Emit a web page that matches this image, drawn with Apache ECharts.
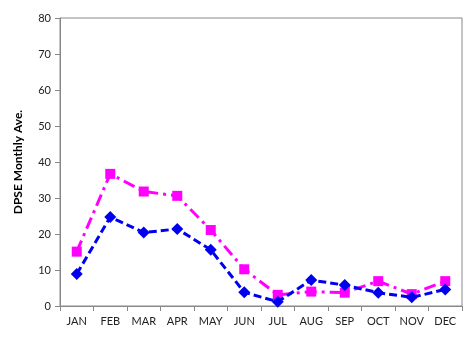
<!DOCTYPE html>
<html><head><meta charset="utf-8">
<script src="https://cdn.jsdelivr.net/npm/echarts@6/dist/echarts.min.js"></script>
<style>html,body{margin:0;padding:0;background:#fff}#c{width:467px;height:344px}</style>
</head><body><div id="c"></div>
<script>
const months = ['JAN','FEB','MAR','APR','MAY','JUN','JUL','AUG','SEP','OCT','NOV','DEC'];
const blueSeries = [8.9, 24.7, 20.4, 21.4, 15.6, 3.8, 1.2, 7.2, 5.8, 3.7, 2.4, 4.6];
const pinkSeries = [15.1, 36.7, 31.8, 30.6, 21.1, 10.2, 3.1, 4.0, 3.7, 6.9, 3.3, 6.9];
const yTitle = 'DPSE Monthly Ave.';

const chart = echarts.init(document.getElementById('c'));
const font = 'Lato, "Open Sans", sans-serif';
chart.setOption({
  animation: false,
  grid: {left: 60, top: 18, right: 5, bottom: 38, show: true, borderColor: '#888', borderWidth: 1},
  xAxis: {
    type: 'category', data: months, boundaryGap: true,
    axisLine: {lineStyle: {color: '#888', width: 1}},
    axisTick: {show: true, length: 5, lineStyle: {color: '#888'}},
    axisLabel: {color: '#222', fontSize: 11, fontFamily: font, margin: 10}
  },
  yAxis: {
    type: 'value', min: 0, max: 80, interval: 10,
    name: yTitle, nameLocation: 'middle', nameGap: 36, nameRotate: 90,
    nameTextStyle: {fontWeight: 'bold', fontSize: 12, color: '#000', fontFamily: font},
    axisLine: {show: true, lineStyle: {color: '#888', width: 1}},
    axisTick: {show: true, length: 5, inside: false, lineStyle: {color: '#888'}},
    axisLabel: {color: '#222', fontSize: 11, fontFamily: font, margin: 9},
    splitLine: {show: false}
  },
  series: [
    {type: 'line', data: pinkSeries, symbol: 'rect', symbolSize: 10,
     lineStyle: {color: '#ff00ff', width: 3, type: [12, 5, 3, 5]},
     itemStyle: {color: '#ff00ff'}, z: 2},
    {type: 'line', data: blueSeries, symbol: 'diamond', symbolSize: 12,
     lineStyle: {color: '#0000ee', width: 3, type: [8, 4]},
     itemStyle: {color: '#0000ee'}, z: 3}
  ]
});
</script></body></html>
